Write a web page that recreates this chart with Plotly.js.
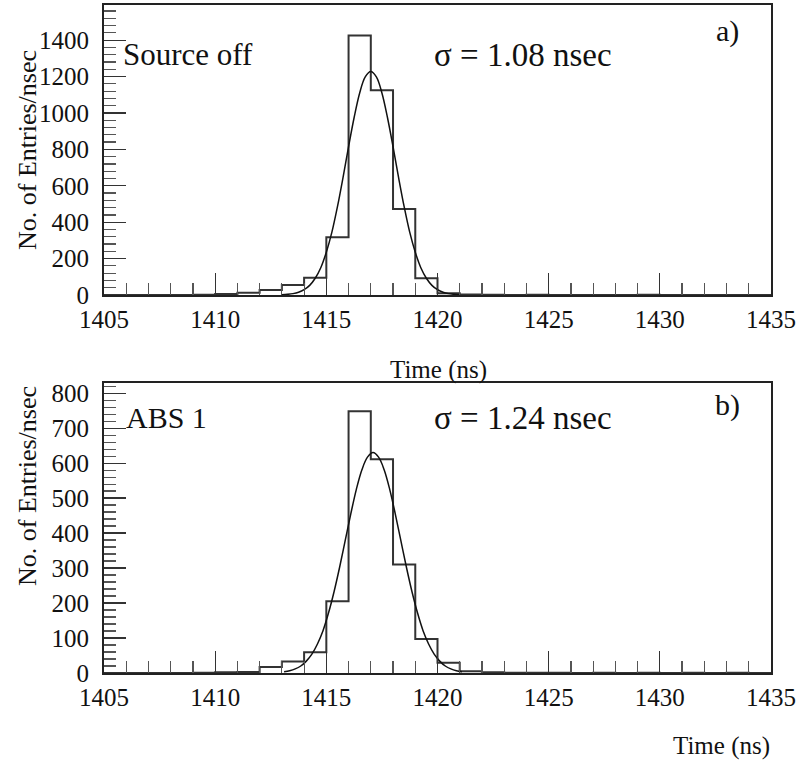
<!DOCTYPE html>
<html>
<head>
<meta charset="utf-8">
<script src="https://cdn.plot.ly/plotly-3.0.1.min.js"></script>
<style>html,body{margin:0;padding:0;background:#fff;}#chart{width:801px;height:763px;}</style>
</head>
<body>
<div id="chart"></div>
<script>
// Bin edges (ns), 1 ns bins from 1405 to 1435
const binEdges = [1405,1406,1407,1408,1409,1410,1411,1412,1413,1414,1415,1416,1417,1418,1419,1420,1421,1422,1423,1424,1425,1426,1427,1428,1429,1430,1431,1432,1433,1434,1435];
// a) Source off – counts per bin
const countsA = [0,0,0,0,2,5,13,27,55,95,317,1425,1125,472,92,10,3,1,0,1,0,0,0,0,1,0,0,0,0,0];
// b) ABS 1 – counts per bin
const countsB = [0,0,0,0,1,2,3,17,33,59,205,748,611,310,97,29,5,2,1,1,1,0,1,0,1,0,1,0,1,0];
// Fitted Gaussian curves
const fitAx = [1413,1413.25,1413.5,1413.75,1414,1414.25,1414.5,1414.75,1415,1415.25,1415.5,1415.75,1416,1416.25,1416.5,1416.75,1417,1417.25,1417.5,1417.75,1418,1418.25,1418.5,1418.75,1419,1419.25,1419.5,1419.75,1420,1420.25,1420.5,1420.75,1421];
const fitAy = [1.5,3.5,7.5,15,29,53,92,150,235,345,485,645,815,975,1110,1198,1228,1198,1110,975,815,645,485,345,235,150,92,53,29,15,7.5,3.5,1.5];
const fitBx = [1413.1,1413.35,1413.6,1413.85,1414.1,1414.35,1414.6,1414.85,1415.1,1415.35,1415.6,1415.85,1416.1,1416.35,1416.6,1416.85,1417.1,1417.35,1417.6,1417.85,1418.1,1418.35,1418.6,1418.85,1419.1,1419.35,1419.6,1419.85,1420.1,1420.35,1420.6,1420.85,1421.1];
const fitBy = [3.5,6.5,11.7,20,34,54,83,121,172,233,303,379,455,525,581,617,630,617,581,525,455,379,303,233,172,121,83,54,34,20,11.7,6.5,3.5];
const xTickVals = [1405,1410,1415,1420,1425,1430,1435];
const labelA = "Source off", sigmaA = "σ = 1.08 nsec", tagA = "a)";
const labelB = "ABS 1", sigmaB = "σ = 1.24 nsec", tagB = "b)";
const xTitle = "Time (ns)", yTitle = "No. of Entries/nsec";

const FONT = "Liberation Serif";
const INK = "#111";

function steps(counts){ return counts.concat([counts[counts.length-1]]); }

const traces = [
  {x: binEdges, y: steps(countsA), type:'scatter', mode:'lines', line:{shape:'hv', color:'#333', width:2}, xaxis:'x', yaxis:'y', hoverinfo:'skip'},
  {x: fitAx, y: fitAy, type:'scatter', mode:'lines', line:{shape:'spline', color:'#111', width:1.5}, xaxis:'x', yaxis:'y', hoverinfo:'skip'},
  {x: binEdges, y: steps(countsB), type:'scatter', mode:'lines', line:{shape:'hv', color:'#333', width:2}, xaxis:'x2', yaxis:'y2', hoverinfo:'skip'},
  {x: fitBx, y: fitBy, type:'scatter', mode:'lines', line:{shape:'spline', color:'#111', width:1.5}, xaxis:'x2', yaxis:'y2', hoverinfo:'skip'}
];

function xAxis(anchor){
  return {
    anchor: anchor, domain:[0,1], range:[1405,1435], tickvals: xTickVals,
    ticks:'inside', ticklen:22, tickwidth:1.2, tickcolor:'#333',
    minor:{dtick:1, tick0:1405, ticks:'inside', ticklen:12, tickwidth:1.2, tickcolor:'#555'},
    showline:true, linecolor:'#222', linewidth:2, mirror:true,
    showgrid:false, zeroline:false,
    tickfont:{family:FONT, size:25, color:INK}, ticklabelstandoff:1
  };
}
function yAxis(anchor, domain, range, dtick, minorDt){
  return {
    anchor: anchor, domain: domain, range: range, dtick: dtick, tick0:0,
    ticks:'inside', ticklen:22, tickwidth:1.2, tickcolor:'#333',
    minor:{dtick:minorDt, tick0:0, ticks:'inside', ticklen:12, tickwidth:1.2, tickcolor:'#555'},
    showline:true, linecolor:'#222', linewidth:2, mirror:true,
    showgrid:false, zeroline:false,
    tickfont:{family:FONT, size:25, color:INK}, ticklabelstandoff:8
  };
}

// pixel helpers (margins l=104, t=5, plot 667 x 668)
const px = v => (v-104)/667;
const py = v => 1-(v-5)/668;

function ann(text, x, y, xa, size, extra){
  return Object.assign({text:text, xref:'paper', yref:'paper', x:px(x), y:py(y), xanchor:xa, yanchor:'middle',
    showarrow:false, font:{family:FONT, size:size, color:INK}}, extra||{});
}

const layout = {
  width:801, height:763,
  margin:{l:104, r:30, t:5, b:90},
  paper_bgcolor:'#fff', plot_bgcolor:'#fff',
  font:{family:FONT, color:INK},
  showlegend:false,
  xaxis: xAxis('y'),
  yaxis: yAxis('x', [1-290/668, 1], [0,1593], 200, 40),
  xaxis2: xAxis('y2'),
  yaxis2: yAxis('x2', [0, 1-378/668], [0,829], 100, 20),
  annotations:[
    ann(labelA, 121, 55, 'left', 31),
    ann(sigmaA, 432, 55, 'left', 33),
    ann(tagA, 727, 31, 'center', 30),
    ann(xTitle, 438, 370, 'center', 25),
    ann(labelB, 124, 417, 'left', 30),
    ann(sigmaB, 432, 418, 'left', 33),
    ann(tagB, 727, 405, 'center', 30),
    ann(xTitle, 772, 746, 'right', 25),
    ann(yTitle, 27, 150, 'center', 26, {textangle:-90}),
    ann(yTitle, 27, 486, 'center', 26, {textangle:-90})
  ]
};

Plotly.newPlot('chart', traces, layout, {staticPlot:true, displayModeBar:false});
</script>
</body>
</html>
